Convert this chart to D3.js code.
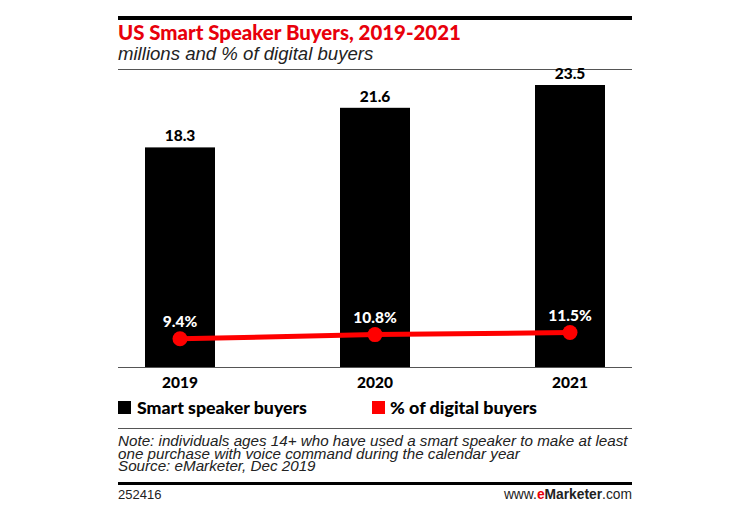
<!DOCTYPE html>
<html><head><meta charset="utf-8">
<script src="https://cdn.jsdelivr.net/npm/d3@7"></script>
<style>body{margin:0;background:#fff}</style>
</head><body>
<script>
const categories = ["2019", "2020", "2021"];
const buyers = [18.3, 21.6, 23.5];
const pctDigital = [9.4, 10.8, 11.5];
const buyerLabels = ["18.3", "21.6", "23.5"];
const pctLabels = ["9.4%", "10.8%", "11.5%"];

const W = 750, H = 517;
const L = 118, R = 632;
const svg = d3.select("body").append("svg").attr("width", W).attr("height", H);
const bold = "Lato, 'Open Sans', sans-serif";
const ital = "'Liberation Sans', Arial, sans-serif";

svg.append("rect").attr("x", L).attr("y", 16).attr("width", R - L).attr("height", 4).attr("fill", "#000");
svg.append("text").attr("x", L).attr("y", 40).attr("fill", "#e8000b").attr("font-family", bold)
  .attr("font-weight", 900).attr("font-size", 20.4).text("US Smart Speaker Buyers, 2019-2021");
svg.append("text").attr("x", L).attr("y", 60).attr("fill", "#222").attr("font-family", ital)
  .attr("font-style", "italic").attr("font-size", 18.6).text("millions and % of digital buyers");
svg.append("line").attr("x1", L).attr("x2", R).attr("y1", 69.5).attr("y2", 69.5).attr("stroke", "#555").attr("stroke-width", 1);

const x2 = d3.scalePoint().domain(categories).range([180, 570]);
const y = d3.scaleLinear().domain([0, 25]).range([367, 67]);
const yp = d3.scaleLinear().domain([0, 100]).range([367, 67]);

const bw = 70;
svg.selectAll(".bar").data(categories).enter().append("rect")
  .attr("x", d => x2(d) - bw / 2).attr("width", bw)
  .attr("y", (d, i) => y(buyers[i])).attr("height", (d, i) => y(0) - y(buyers[i]))
  .attr("fill", "#000");
svg.selectAll(".bl").data(categories).enter().append("text")
  .attr("x", d => x2(d)).attr("y", (d, i) => y(buyers[i]) - 6)
  .attr("text-anchor", "middle").attr("font-family", bold).attr("font-weight", 900).attr("font-size", 15.5)
  .text((d, i) => buyerLabels[i]);

svg.append("line").attr("x1", L).attr("x2", R).attr("y1", 367.5).attr("y2", 367.5).attr("stroke", "#555");

const line = d3.line().x((d, i) => x2(categories[i])).y(d => yp(d));
svg.append("path").datum(pctDigital).attr("d", line).attr("fill", "none").attr("stroke", "#f00").attr("stroke-width", 5);
svg.selectAll(".dot").data(pctDigital).enter().append("circle")
  .attr("cx", (d, i) => x2(categories[i])).attr("cy", d => yp(d)).attr("r", 7.5).attr("fill", "#f00");
svg.selectAll(".pl").data(pctDigital).enter().append("text")
  .attr("x", (d, i) => x2(categories[i])).attr("y", d => yp(d) - 12)
  .attr("text-anchor", "middle").attr("fill", "#fff").attr("font-family", bold).attr("font-weight", 900).attr("font-size", 15.5)
  .text((d, i) => pctLabels[i]);

svg.selectAll(".cat").data(categories).enter().append("text")
  .attr("x", d => x2(d)).attr("y", 388).attr("text-anchor", "middle")
  .attr("font-family", bold).attr("font-weight", 900).attr("font-size", 15.5).text(d => d);

// legend
svg.append("rect").attr("x", L).attr("y", 401).attr("width", 13).attr("height", 13).attr("fill", "#000");
svg.append("text").attr("x", 137).attr("y", 413.5).attr("font-family", bold).attr("font-weight", 900).attr("font-size", 17.7).text("Smart speaker buyers");
svg.append("rect").attr("x", 372).attr("y", 401).attr("width", 13).attr("height", 13).attr("fill", "#f00");
svg.append("text").attr("x", 390).attr("y", 413.5).attr("font-family", bold).attr("font-weight", 900).attr("font-size", 17.9).text("% of digital buyers");

svg.append("line").attr("x1", L).attr("x2", R).attr("y1", 428.5).attr("y2", 428.5).attr("stroke", "#555");

const notes = ["Note: individuals ages 14+ who have used a smart speaker to make at least",
  "one purchase with voice command during the calendar year",
  "Source: eMarketer, Dec 2019"];
svg.selectAll(".note").data(notes).enter().append("text")
  .attr("x", L).attr("y", (d, i) => 446 + i * 12.7)
  .attr("font-family", ital).attr("font-style", "italic").attr("font-size", 15.2).attr("fill", "#222").text(d => d);

svg.append("rect").attr("x", L).attr("y", 482).attr("width", R - L).attr("height", 3).attr("fill", "#000");
svg.append("text").attr("x", L).attr("y", 499).attr("font-family", ital).attr("font-size", 13).attr("fill", "#222").text("252416");
const ft = svg.append("text").attr("x", R).attr("y", 499).attr("text-anchor", "end").attr("font-family", ital).attr("font-size", 13.8).attr("fill", "#222");
ft.append("tspan").text("www.");
ft.append("tspan").attr("fill", "#e8000b").attr("font-weight", "bold").text("e");
ft.append("tspan").attr("font-weight", "bold").text("Marketer");
ft.append("tspan").text(".com");
</script>
</body></html>
